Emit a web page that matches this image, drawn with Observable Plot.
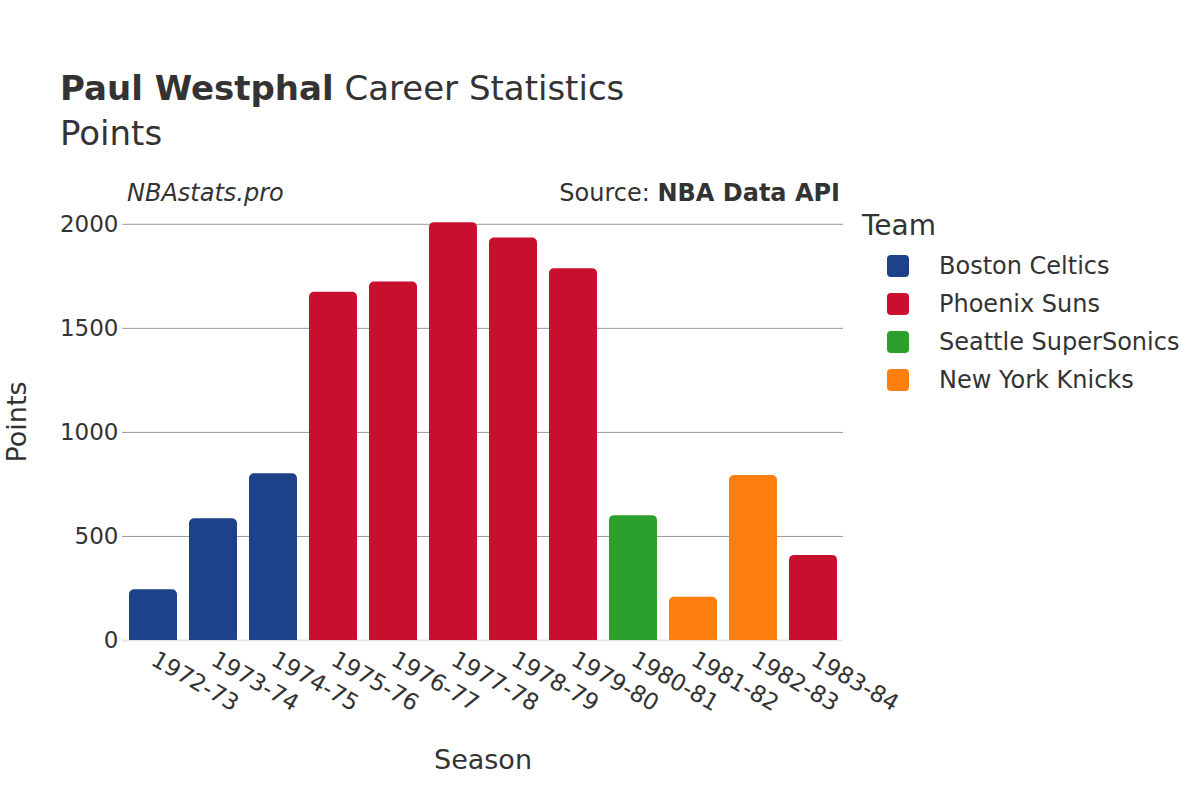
<!DOCTYPE html>
<html><head><meta charset="utf-8">
<script src="https://cdn.jsdelivr.net/npm/d3@7"></script>
<script src="https://cdn.jsdelivr.net/npm/@observablehq/plot@0.6"></script>
<style>
body{margin:0;background:#fff;font-family:"DejaVu Sans",sans-serif;color:#333;}
#wrap{position:relative;width:1200px;height:800px;overflow:hidden;}
.abs{position:absolute;white-space:nowrap;}
#chart{position:absolute;left:0;top:0;}
.leg{position:absolute;left:887px;display:flex;align-items:center;font-size:24px;}
.sw{width:22px;height:22px;border-radius:4px;margin-right:30px;}
</style></head>
<body><div id="wrap">
<div id="chart"></div>
<div class="abs" style="left:60px;top:68px;font-size:34px;"><b>Paul Westphal</b> Career Statistics</div>
<div class="abs" style="left:60px;top:113px;font-size:34px;">Points</div>
<div class="abs" style="left:127px;top:179px;font-size:24px;font-style:italic;">NBAstats.pro</div>
<div class="abs" style="right:360px;top:179px;font-size:24px;">Source: <b>NBA Data API</b></div>
<div class="abs" style="left:862px;top:209px;font-size:28px;">Team</div>
<div id="legend"></div>
</div>
<script>
const seasons = ["1972-73","1973-74","1974-75","1975-76","1976-77","1977-78","1978-79","1979-80","1980-81","1981-82","1982-83","1983-84"];
const teams = ["Boston Celtics","Boston Celtics","Boston Celtics","Phoenix Suns","Phoenix Suns","Phoenix Suns","Phoenix Suns","Phoenix Suns","Seattle SuperSonics","New York Knicks","New York Knicks","Phoenix Suns"];
const points = [244,585,801,1673,1723,2008,1934,1787,600,208,793,409];
const teamNames = ["Boston Celtics","Phoenix Suns","Seattle SuperSonics","New York Knicks"];
const teamColors = ["#1d428a","#c8102e","#2ca02c","#ff7f0e"];
const yTicks = [0,500,1000,1500,2000];

const data = seasons.map((s,i)=>({season:s, team:teams[i], pts:points[i]}));

const chart = Plot.plot({
  width:1200, height:800,
  marginLeft:122, marginRight:357, marginTop:203, marginBottom:160,
  style:{fontFamily:"DejaVu Sans, sans-serif", fontSize:"23px", color:"#333", background:"transparent"},
  x:{domain:seasons, paddingInner:0.2, paddingOuter:0.1, label:null},
  y:{domain:[0,2100], label:null},
  color:{domain:teamNames, range:teamColors},
  marks:[
    Plot.gridY(yTicks,{stroke:"#999", strokeOpacity:1, strokeWidth:1}),
    Plot.ruleY([0],{stroke:"#e6e6e6", strokeWidth:2}),
    Plot.barY(data,{x:"season", y:"pts", fill:"team", rx:5, insetBottom:-8, clip:true}),
    Plot.axisY({ticks:yTicks, tickFormat:"d", tickSize:0, tickPadding:4, fontSize:23, label:null}),
    Plot.axisX({tickSize:0, tickRotate:30, tickPadding:11, dy:6, fontSize:23, label:null}),
    Plot.text(["Season"],{frameAnchor:"bottom", dy:128, fontSize:27, fill:"#333"}),
    Plot.text(["Points"],{frameAnchor:"left", dx:-105, rotate:-90, textAnchor:"middle", fontSize:27, fill:"#333"})
  ]
});
document.getElementById("chart").appendChild(chart);

const leg = document.getElementById("legend");
teamNames.forEach((t,i)=>{
  const d=document.createElement("div");
  d.className="leg"; d.style.top=(252+i*38)+"px";
  d.innerHTML=`<div class="sw" style="background:${teamColors[i]}"></div><span>${t}</span>`;
  leg.appendChild(d);
});
</script>
</body></html>
